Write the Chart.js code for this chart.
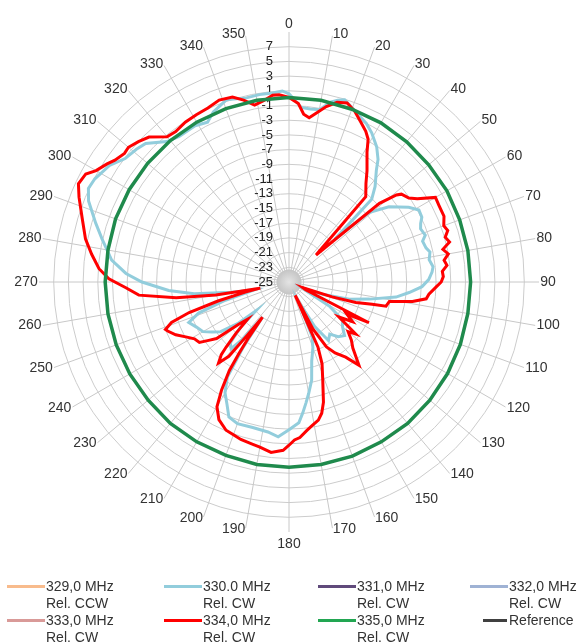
<!DOCTYPE html>
<html>
<head>
<meta charset="utf-8">
<script src="https://cdn.jsdelivr.net/npm/chart.js@4.4.0/dist/chart.umd.min.js"></script>
<style>
  body { margin: 0; background: #fff; }
  #wrap { position: relative; width: 579px; height: 643px; }
  #legend { position: absolute; left: 0; top: 0; width: 579px; height: 643px; pointer-events: none;
            font-family: Arial, "Liberation Sans", sans-serif; font-size: 14px; line-height: 17px; color: #333; }
  .item { position: absolute; white-space: nowrap; }
  .swatch { position: absolute; top: 7px; height: 3px; }
  .text { position: absolute; left: 39px; top: 0; }
</style>
</head>
<body>
<div id="wrap">
  <canvas id="patternChart"></canvas>
  <div id="legend"></div>
</div>
<script>
// Polar pattern, dB relative, angle in degrees (clockwise from top)
const angles = Array.from({ length: 360 }, (_, i) => String(i));
const angleMarks = [0, 10, 20, 30, 40, 50, 60, 70, 80, 90, 100, 110, 120, 130, 140, 150, 160, 170,
  180, 190, 200, 210, 220, 230, 240, 250, 260, 270, 280, 290, 300, 310, 320, 330, 340, 350];
const ringMin = -25;
const ringMax = 7;
const ringStep = 2;
const spokeEnd = 9;   // spokes run a little past the last ring

// [angle, dB]
const trace330 = [
  [0, 0.6], [2, -0.3], [4, -1.2], [7, -1.3], [10, -1.2], [13, 0.1], [15, 0.6], [17, 0.9], [20, 0.2],
  [22, -0.3], [26, -1.0], [29, -1.8], [33, -3.1], [36, -4.4], [38, -5.7], [42, -7.5], [45, -9.1],
  [47, -16.5], [49, -10.6], [53, -8.0], [58, -5.8], [61, -4.8], [64, -4.9], [66, -5.4], [68, -5.7],
  [71, -5.4], [73, -6.0], [76, -5.8], [78, -5.4], [81, -5.7], [84, -5.3], [86, -5.5], [89, -6.0],
  [92, -6.9], [95, -8.6], [98, -10.3], [102, -13.8], [106, -16.5], [110, -20.0], [114, -23.0],
  [118, -21.9], [121, -18.5], [124, -17.0], [126, -16.0], [130, -15.5], [134, -14.5], [138, -15.0],
  [142, -16.0], [146, -15.4], [150, -18.0], [154, -22.0], [157, -17.0], [160, -15.5], [164, -13.8],
  [167, -11.3], [170, -9.6], [172, -8.4], [174, -7.1], [176, -5.8], [180, -4.9], [184, -3.9],
  [188, -4.4], [194, -4.6], [200, -4.5], [204, -4.9], [207, -6.4], [210, -7.6], [213, -9.6],
  [215, -14.0], [217, -19.0], [219, -15.0], [221, -13.0], [224, -13.5], [227, -16.0], [229, -19.0],
  [231, -16.0], [234, -13.5], [237, -12.5], [240, -11.5], [244, -11.0], [248, -10.3], [251, -12.0],
  [254, -16.0], [257, -20.0], [260, -17.0], [263, -12.0], [266, -8.6], [270, -5.0], [273, -2.8],
  [277, -0.7], [283, 1.1], [287, 2.5], [292, 4.4], [295, 5.1], [298, 4.9], [303, 4.1], [307, 2.9],
  [311, 2.5], [314, 2.1], [319, 0.3], [323, -0.2], [329, -0.2], [333, -0.6], [336, 0.3], [341, 1.2],
  [347, 0.7], [351, 0.8], [355, 0.8], [358, 1.0]
];

const trace334 = [
  [0, 0.1], [3, -0.7], [5, -2.1], [7, -2.5], [9, -1.8], [12, -0.6], [15, 0.3], [18, 0.6], [21, -0.1],
  [24, -1.1], [27, -2.0], [29, -2.8], [31, -4.4], [35, -6.5], [38, -8.0], [42, -9.4], [45, -19.8],
  [49, -8.7], [51, -6.2], [52, -5.6], [55, -5.1], [57, -4.2], [60, -2.0], [63, -2.1], [67, -2.1],
  [70, -2.6], [72, -2.3], [74, -2.9], [76, -2.5], [78, -3.6], [80, -3.0], [82, -3.7], [84, -3.4],
  [86, -4.1], [88, -4.0], [90, -4.3], [92, -5.0], [95, -5.9], [97, -6.2], [99, -8.0], [101, -11.1],
  [104, -11.4], [105, -13.3], [107, -15.5], [109, -18.8], [112, -23.0], [115, -22.5], [117, -12.8],
  [119, -16.0], [122, -14.8], [125, -16.7], [128, -13.5], [130, -14.5], [133, -13.4], [136, -12.5],
  [140, -10.2], [143, -12.2], [147, -13.5], [150, -14.8], [153, -17.8], [155, -23.0], [156, -15.3],
  [158, -13.0], [161, -10.9], [164, -8.0], [166, -6.6], [168, -5.8], [171, -5.2], [173, -4.7],
  [176, -3.8], [178, -3.5], [180, -2.8], [182, -2.1], [186, -1.7], [190, -2.2], [193, -2.4],
  [197, -2.6], [200, -2.9], [203, -3.1], [207, -4.0], [210, -5.4], [212, -7.7], [214, -10.5],
  [215, -13.2], [216, -15.7], [217, -19.0], [218, -16.0], [219, -12.0], [221, -10.4], [223, -11.5],
  [224, -12.7], [226, -15.0], [228, -17.4], [230, -16.0], [232, -12.5], [234, -11.5], [236, -10.3],
  [239, -10.0], [242, -9.1], [245, -8.0], [248, -7.2], [249, -7.0], [251, -8.1], [253, -10.8],
  [255, -15.0], [257, -19.0], [258, -21.0], [260, -14.9], [262, -9.5], [265, -4.5], [268, -2.8],
  [271, -0.5], [274, 0.9], [278, 2.1], [282, 3.3], [287, 4.4], [292, 5.8], [295, 6.6], [298, 6.3],
  [300, 5.3], [303, 4.5], [305, 3.9], [308, 3.4], [310, 3.5], [313, 3.0], [316, 2.4], [320, 0.8],
  [323, 0.6], [327, 0.9], [331, 1.0], [335, 1.1], [339, 1.5], [343, 1.3], [346, 0.5], [349, -0.5],
  [352, -0.1], [355, 0.5], [357, 0.5]
];

const trace335 = [
  [0, 0.1], [10, 0.1], [20, 0.0], [30, 0.0], [40, -0.1], [50, -0.2], [60, -0.2], [70, -0.3], [80, -0.3],
  [90, -0.3], [100, -0.3], [110, -0.2], [120, -0.1], [130, 0.0], [140, 0.1], [150, 0.1], [160, 0.2],
  [170, 0.2], [180, 0.2], [190, 0.2], [200, 0.1], [210, 0.1], [220, 0.1], [230, 0.0], [240, 0.0],
  [250, 0.0], [260, 0.0], [270, 0.0], [280, 0.0], [290, 0.1], [300, 0.1], [310, 0.1], [320, 0.1],
  [330, 0.1], [340, 0.1], [350, 0.1]
];

const seriesNames = [
  ['329,0 MHz', 'Rel. CCW'], ['330.0 MHz', 'Rel. CW'], ['331,0 MHz', 'Rel. CW'], ['332,0 MHz', 'Rel. CW'],
  ['333,0 MHz', 'Rel. CW'], ['334,0 MHz', 'Rel. CW'], ['335,0 MHz', 'Rel. CW'], ['Reference']
];
const seriesColors = ['#f8bb8c', '#92cddc', '#604a7b', '#9fb2d4', '#d99a98', '#ff0000', '#1f8a4c', '#404040'];
const legendColors = ['#f8bb8c', '#92cddc', '#604a7b', '#9fb2d4', '#d99a98', '#ff0000', '#22a652', '#404040'];
const seriesTraces = [[], trace330, [], [], [], trace334, trace335, []];
const seriesWidths = [3, 3, 3, 3, 3, 3, 3.5, 2];
const seriesOrder = [7, 2, 6, 5, 4, 1, 0, 3];

function toRing(trace) {
  const out = angles.map(() => null);
  trace.forEach(([deg, db]) => { out[deg % 360] = db; });
  return out;
}

const FONT = 'Arial, "Liberation Sans", sans-serif';

// Ring values written next to the 0° spoke
const tickLabels = {
  id: 'tickLabels',
  beforeDatasetsDraw(chart) {
    const s = chart.scales.r;
    const c = chart.ctx;
    c.save();
    c.font = '13px ' + FONT;
    c.fillStyle = '#222';
    c.textAlign = 'right';
    c.textBaseline = 'middle';
    s.ticks.forEach(t => {
      if (t.value > ringMax) return;
      c.fillText(String(t.value), s.xCenter - 16, s.yCenter - s.getDistanceFromCenterForValue(t.value));
    });
    c.restore();
  }
};

// Angle labels, centred vertically on their spoke direction
const angleLabels = {
  id: 'angleLabels',
  afterDraw(chart) {
    const s = chart.scales.r;
    const c = chart.ctx;
    const dist = s.getDistanceFromCenterForValue(ringMax) + 16;
    c.save();
    c.font = '14px ' + FONT;
    c.fillStyle = '#333';
    angleMarks.forEach(deg => {
      const p = s.getPointPosition(deg, deg === 180 ? dist + 4 : dist);
      c.textAlign = (deg === 0 || deg === 180) ? 'center' : (deg < 180 ? 'left' : 'right');
      c.textBaseline = deg === 0 ? 'bottom' : (deg === 180 ? 'top' : 'middle');
      c.fillText(String(deg), p.x, p.y);
    });
    c.restore();
  }
};

// Grey hub where the spokes meet
const centerDisc = {
  id: 'centerDisc',
  beforeDatasetsDraw(chart) {
    const s = chart.scales.r;
    const c = chart.ctx;
    const rad = s.getDistanceFromCenterForValue(-23.3);
    const g = c.createRadialGradient(s.xCenter, s.yCenter, 0, s.xCenter, s.yCenter, rad);
    g.addColorStop(0, '#e4e4e4');
    g.addColorStop(1, '#c4c4c4');
    c.save();
    c.beginPath();
    c.arc(s.xCenter, s.yCenter, rad, 0, Math.PI * 2);
    c.fillStyle = g;
    c.fill();
    c.restore();
  }
};

const ctx = document.getElementById('patternChart').getContext('2d');
const patternChart = new Chart(ctx, {
  type: 'radar',
  data: {
    labels: angles,
    datasets: seriesNames.map((name, i) => ({
      label: name.join(' '),
      data: toRing(seriesTraces[i]),
      borderColor: seriesColors[i],
      backgroundColor: seriesColors[i],
      borderWidth: seriesWidths[i],
      pointRadius: 0,
      pointHoverRadius: 0,
      fill: false,
      spanGaps: true,
      tension: 0,
      order: seriesOrder[i]
    }))
  },
  options: {
    responsive: true,
    maintainAspectRatio: false,
    animation: false,
    layout: { padding: { top: 32, bottom: 111, left: 0, right: 0 } },
    plugins: {
      legend: { display: false },
      tooltip: { enabled: false }
    },
    scales: {
      r: {
        min: ringMin,
        max: spokeEnd,
        ticks: { stepSize: ringStep, display: false },
        grid: {
          circular: true,
          lineWidth: 1,
          color: c => (c.tick && c.tick.value > ringMax ? 'rgba(0,0,0,0)' : '#cccccc')
        },
        angleLines: {
          color: c => (c.index % 10 === 0 ? '#c8c8c8' : 'rgba(0,0,0,0)'),
          lineWidth: c => (c.index % 10 === 0 ? 1 : 0)
        },
        pointLabels: { display: false }
      }
    }
  },
  plugins: [centerDisc, tickLabels, angleLabels]
});

// Legend laid out as a 4 x 2 grid under the plot
const legendCols = [7, 164, 318, 470];
const legendRows = [578, 612];
const legendBox = document.getElementById('legend');
seriesNames.forEach((name, i) => {
  const item = document.createElement('div');
  item.className = 'item';
  item.style.left = legendCols[i % 4] + 'px';
  item.style.top = legendRows[Math.floor(i / 4)] + 'px';
  const sw = document.createElement('span');
  sw.className = 'swatch';
  sw.style.background = legendColors[i];
  sw.style.left = name.length === 1 ? '13px' : '0px';
  sw.style.width = name.length === 1 ? '24px' : '38px';
  const tx = document.createElement('div');
  tx.className = 'text';
  tx.innerHTML = name.join('<br>');
  item.appendChild(sw);
  item.appendChild(tx);
  legendBox.appendChild(item);
});
</script>
</body>
</html>
